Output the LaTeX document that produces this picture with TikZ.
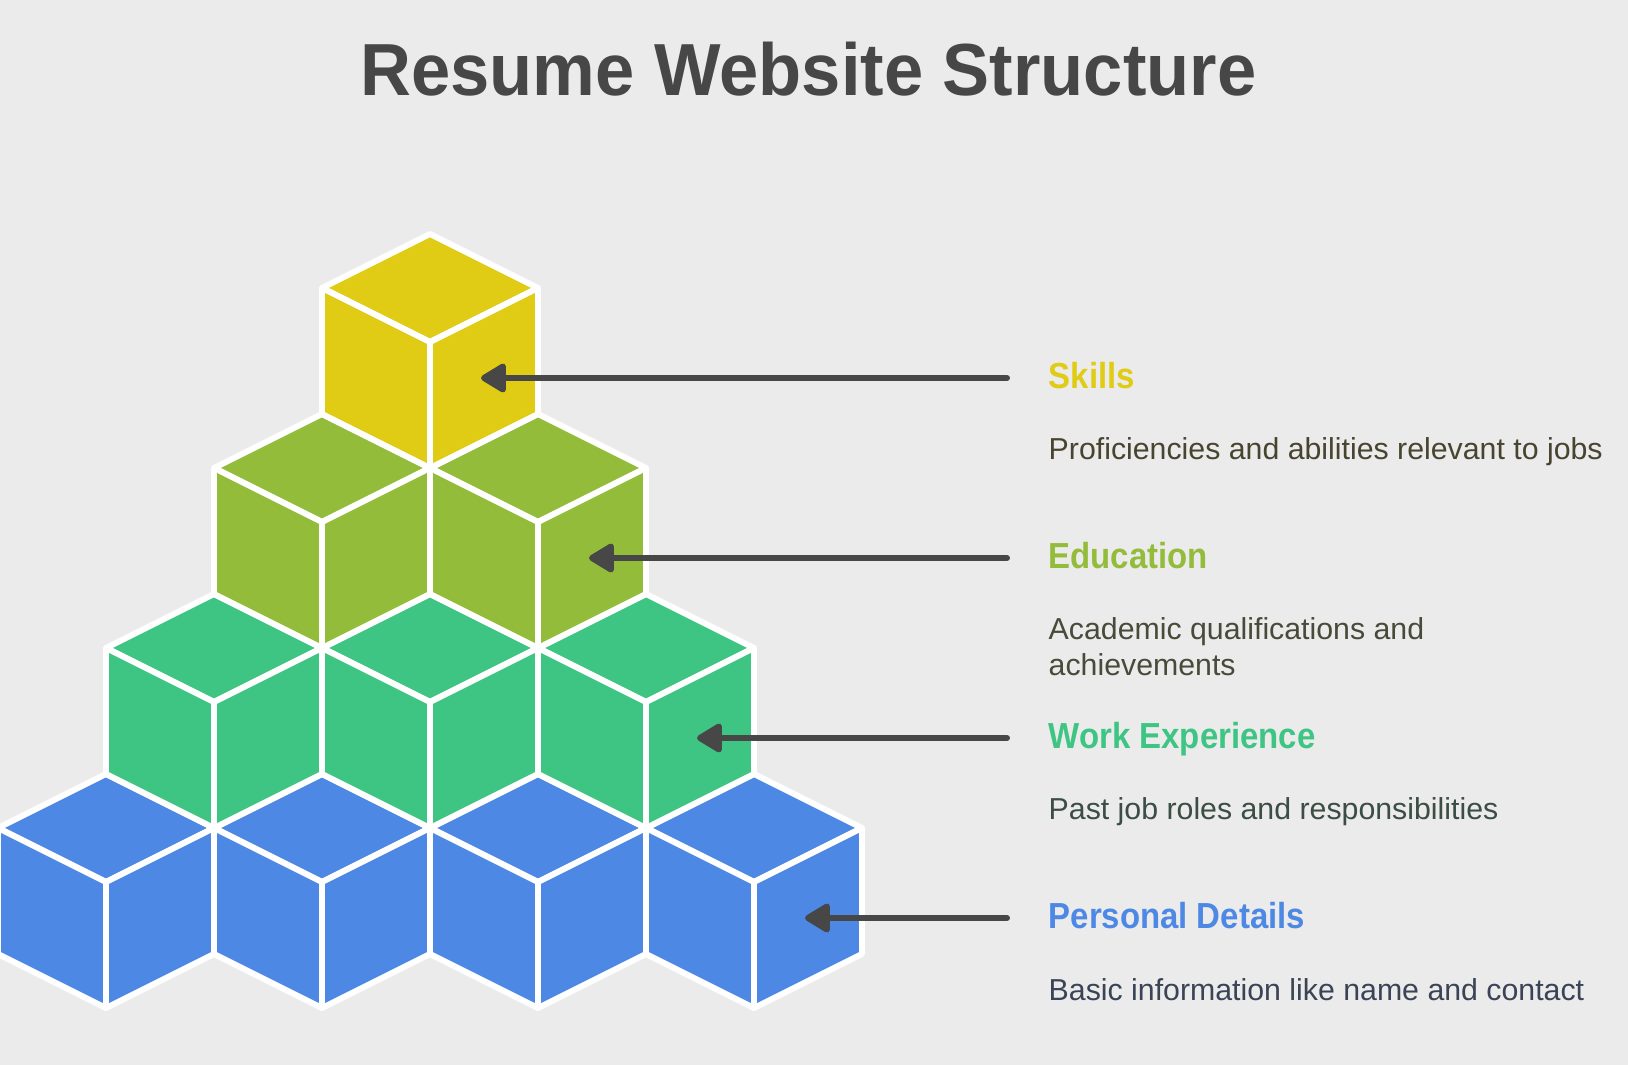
\documentclass[tikz,border=0pt]{standalone}
\usepackage{fontspec}
\setmainfont{Liberation Sans}
\newfontfamily\titlefont[FakeStretch=0.955]{Liberation Sans}
\newfontfamily\headfont[FakeStretch=0.91]{Liberation Sans}
\usetikzlibrary{positioning,arrows.meta}

\definecolor{bg}{HTML}{EBEBEB}
\definecolor{ink}{HTML}{474747}
\definecolor{skillc}{HTML}{E0CB15}
\definecolor{educ}{HTML}{93BC3A}
\definecolor{workc}{HTML}{3EC584}
\definecolor{persc}{HTML}{4E88E5}
\definecolor{skilltxt}{HTML}{47452F}
\definecolor{edutxt}{HTML}{484B39}
\definecolor{worktxt}{HTML}{3B4D44}
\definecolor{perstxt}{HTML}{3B4456}

\begin{document}
\begin{tikzpicture}[
   cube/.pic={
      \path[pic actions] (0,0) -- (-1.08,0.54) -- (0,1.08) -- (1.08,0.54) -- cycle;
      \path[pic actions] (0,0) -- (-1.08,0.54) -- (-1.08,-0.72) -- (0,-1.26) -- cycle;
      \path[pic actions] (0,0) -- (1.08,0.54) -- (1.08,-0.72) -- (0,-1.26) -- cycle;
      \coordinate (-face) at (0.51,-0.36);
   },
   block/.style={draw=white,line width=1.7pt,line join=round},
   head/.style={anchor=west,inner sep=0,text height=0.22cm,text depth=0pt,font=\headfont\bfseries\fontsize{10.3}{12}\selectfont},
   desc/.style={anchor=base west,inner sep=0,align=left,font=\fontsize{8.62}{10.25}\selectfont},
   pointer/.style={draw=ink,line width=1.7pt,line cap=round,-{Triangle[length=0.28cm,width=0.32cm,round]}}]
   \useasboundingbox (0,0) rectangle (16.28,10.65);
   \fill[bg] (0,0) rectangle (16.28,10.65);
   \node[anchor=base,text=ink,font=\titlefont\bfseries\fontsize{21}{25}\selectfont] (title) at (8.085,9.69) {Resume Website Structure};
   % pyramid of cubes
   \pic[block,fill=persc ] (pd1) at (1.06,1.83) {cube};
   \pic[block,fill=persc ] (pd2) at (3.22,1.83) {cube};
   \pic[block,fill=persc ] (pd3) at (5.38,1.83) {cube};
   \pic[block,fill=persc ] (pd4) at (7.54,1.83) {cube};
   \pic[block,fill=workc ] (we1) at (2.14,3.63) {cube};
   \pic[block,fill=workc ] (we2) at (4.30,3.63) {cube};
   \pic[block,fill=workc ] (we3) at (6.46,3.63) {cube};
   \pic[block,fill=educ  ] (ed1) at (3.22,5.43) {cube};
   \pic[block,fill=educ  ] (ed2) at (5.38,5.43) {cube};
   \pic[block,fill=skillc] (sk1) at (4.30,7.23) {cube};
   % labels
   \coordinate (col) at (10.48,0);
   \node[head,text=skillc] (skills)    at (col |- sk1-face) {Skills};
   \node[head,text=educ  ] (education) at (col |- ed2-face) {Education};
   \node[head,text=workc ] (work)      at (col |- we3-face) {Work Experience};
   \node[head,text=persc ] (personal)  at (col |- pd4-face) {Personal Details};
   \node[desc,text=skilltxt] (skills text)    at ([yshift=-0.71cm]skills.base west)    {Proficiencies and abilities relevant to jobs};
   \node[desc,text=edutxt  ] (education text) at ([yshift=-1.07cm]education.base west) {Academic qualifications and\\achievements};
   \node[desc,text=worktxt ] (work text)      at ([yshift=-0.71cm]work.base west)      {Past job roles and responsibilities};
   \node[desc,text=perstxt ] (personal text)  at ([yshift=-0.71cm]personal.base west)  {Basic information like name and contact};
   \draw[pointer] ([xshift=-0.41cm]skills.west)    -- (sk1-face);
   \draw[pointer] ([xshift=-0.41cm]education.west) -- (ed2-face);
   \draw[pointer] ([xshift=-0.41cm]work.west)      -- (we3-face);
   \draw[pointer] ([xshift=-0.41cm]personal.west)  -- (pd4-face);
\end{tikzpicture}
\end{document}
